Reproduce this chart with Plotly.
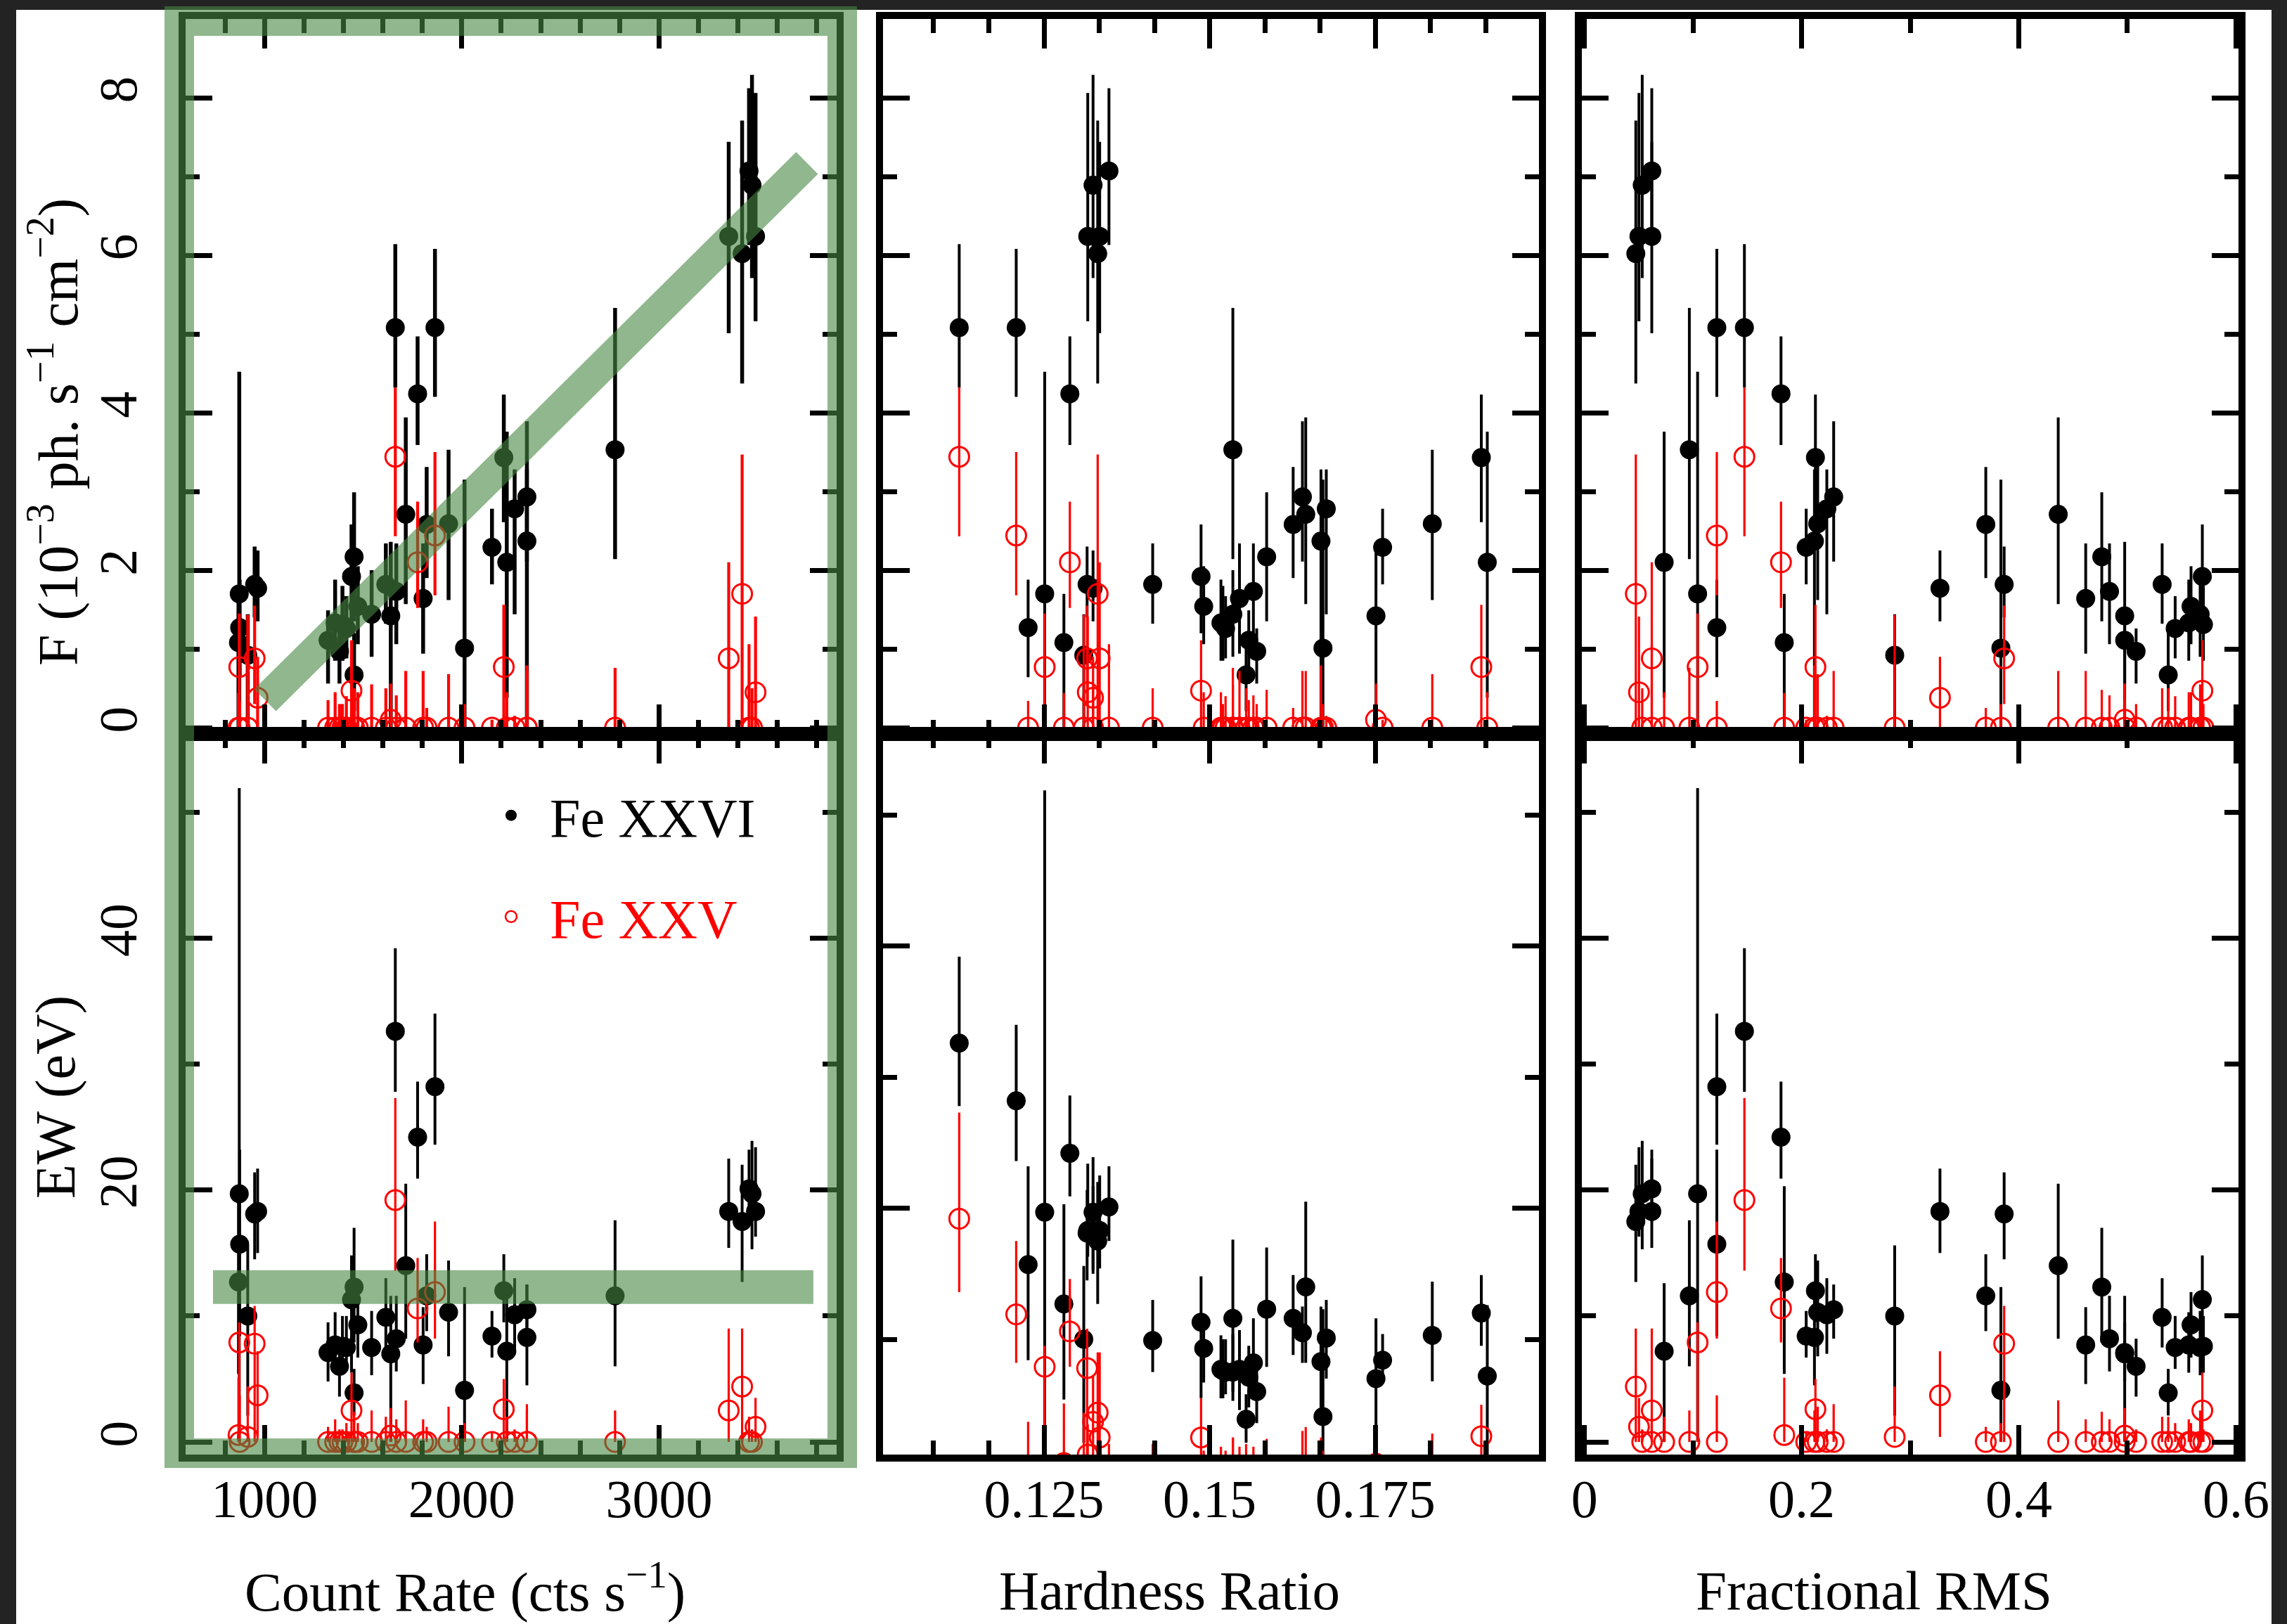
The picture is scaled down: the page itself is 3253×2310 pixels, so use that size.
import plotly.graph_objects as go

W, H = 3253, 2310
FONT = "Liberation Serif"

# ---------------- data (one entry per observation) ----------------
count_rate = [1663, 1864, 874, 872, 1776, 868, 915, 950, 965, 3471, 3489, 3353, 3421, 3456,
              1615, 1441, 1473, 2777, 1358, 1415, 1543, 1804, 1668, 1322, 1454, 1380, 1454,
              1822, 2330, 1716, 2330, 2268, 2014, 1640, 2153, 1933, 2213, 2228, 1395]
hardness_ratio = [0.1122, 0.1208, 0.1226, 0.1251, 0.1289, 0.1280, 0.1310, 0.1315, 0.1324, 0.1324,
                  0.1316, 0.1334, 0.1331, 0.1348, 0.1414, 0.1487, 0.1491, 0.1535, 0.1517, 0.1524,
                  0.1535, 0.1545, 0.1566, 0.1559, 0.1555, 0.1571, 0.1586, 0.1626, 0.1640, 0.1645,
                  0.1668, 0.1676, 0.1671, 0.1751, 0.1761, 0.1836, 0.1910, 0.1919, 0.1520]
fractional_rms = [0.1473, 0.1219, 0.1219, 0.1042, 0.181, 0.184, 0.2857, 0.3865, 0.3274, 0.0532,
                  0.0502, 0.062, 0.0473, 0.062, 0.532, 0.569, 0.5586, 0.0966, 0.5565, 0.544,
                  0.567, 0.4616, 0.4835, 0.4975, 0.5376, 0.508, 0.4764, 0.3696, 0.2295, 0.4363,
                  0.2118, 0.2232, 0.3835, 0.4975, 0.2042, 0.2148, 0.2127, 0.0734, 0.570]

flux_fe26 = [5.08, 5.08, 1.27, 1.70, 4.24, 1.08, 0.92, 1.82, 1.77, 6.89, 6.24, 6.24, 6.02, 7.07,
             1.82, 1.92, 1.54, 3.53, 1.33, 1.26, 1.44, 1.64, 1.73, 1.11, 0.67, 0.97, 2.17, 2.58,
             2.93, 2.71, 2.37, 2.78, 1.01, 1.42, 2.29, 2.59, 3.43, 2.10, 1.31]
flux_fe26_lo = [4.32, 4.20, 0.64, 0.0, 3.59, 0.0, 0.0, 1.40, 1.35, 5.71, 5.16, 5.01, 4.37, 6.13,
                1.32, 1.20, 1.06, 2.14, 0.85, 0.88, 0.90, 0.94, 1.06, 0.56, 0.21, 0.56, 1.35, 1.90,
                2.11, 1.57, 0.0, 1.44, 0.0, 0.0, 1.82, 1.62, 2.61, 0.38, 0.85]
flux_fe26_hi = [6.14, 6.08, 1.88, 4.52, 4.97, 1.70, 1.44, 2.30, 2.25, 8.29, 8.06, 7.44, 7.71, 8.12,
                2.34, 2.58, 2.05, 5.33, 1.88, 1.67, 2.00, 2.34, 2.34, 1.49, 1.20, 1.26, 2.99, 3.31,
                3.89, 3.94, 3.28, 3.28, 3.15, 2.36, 2.78, 3.53, 4.23, 3.76, 1.80]

flux_fe25 = [3.44, 2.44, 0.0, 0.77, 2.10, 0.0, 0.0, 0.88, 0.38, 0.0, 0.45, 0.88, 1.70, 0.0,
             0.0, 0.47, 0.0, 0.0, 0.0, 0.0, 0.0, 0.0, 0.0, 0.0, 0.0, 0.0, 0.0, 0.0,
             0.0, 0.0, 0.0, 0.0, 0.0, 0.10, 0.0, 0.0, 0.77, 0.0, 0.0]
flux_fe25_lo = [2.43, 1.68, 0.0, 0.0, 1.52, 0.0, 0.0, 0.30, 0.0, 0.0, 0.0, 0.0, 0.0, 0.0,
                0.0, 0.0, 0.0, 0.0, 0.0, 0.0, 0.0, 0.0, 0.0, 0.0, 0.0, 0.0, 0.0, 0.0,
                0.0, 0.0, 0.0, 0.0, 0.0, 0.0, 0.0, 0.0, 0.0, 0.0, 0.0]
flux_fe25_hi = [4.32, 3.50, 0.34, 1.45, 2.87, 0.44, 1.43, 1.55, 0.90, 0.50, 1.41, 2.10, 3.47, 1.06,
                0.50, 1.11, 0.45, 0.76, 0.45, 0.40, 0.55, 0.72, 0.41, 0.35, 0.50, 0.30, 0.48, 0.25,
                0.72, 0.72, 0.79, 0.15, 0.30, 0.56, 0.10, 0.68, 1.56, 0.45, 0.30]

ew_fe26 = [32.6, 28.2, 15.7, 19.7, 24.2, 12.7, 10.0, 18.1, 18.3, 19.7, 18.3, 18.3, 17.5, 20.1,
           9.9, 11.3, 9.3, 11.6, 7.7, 7.5, 7.5, 7.7, 8.2, 7.1, 3.9, 6.0, 12.3, 11.6,
           10.5, 14.0, 8.3, 10.1, 4.1, 7.0, 8.4, 10.3, 12.0, 7.2, 7.6]
ew_fe26_lo = [27.8, 23.6, 8.4, 0.0, 20.9, 5.4, 2.1, 14.5, 15.0, 15.3, 16.3, 15.4, 12.7, 17.5,
              7.5, 5.5, 6.7, 6.0, 5.5, 5.8, 5.3, 4.6, 5.6, 4.8, 2.1, 3.6, 7.9, 8.8,
              8.2, 8.2, 4.5, 7.0, 0.0, 0.0, 6.7, 6.8, 9.5, 0.0, 5.5]
ew_fe26_hi = [39.2, 34.0, 23.2, 51.9, 28.6, 20.3, 15.6, 21.4, 21.7, 23.9, 23.4, 22.5, 22.0, 23.2,
              13.0, 14.8, 11.9, 17.6, 10.3, 10.0, 10.4, 10.7, 11.6, 9.5, 5.8, 8.2, 17.0, 14.9,
              12.5, 20.5, 12.5, 13.0, 12.3, 11.6, 10.4, 14.4, 14.9, 12.6, 10.0]

ew_fe25 = [19.2, 11.9, 0.0, 7.9, 10.6, 0.55, 0.4, 7.8, 3.7, 0.0, 1.2, 2.5, 4.4, 0.0,
           0.0, 2.5, 0.0, 0.0, 0.0, 0.0, 0.0, 0.0, 0.0, 0.0, 0.0, 0.0, 0.0, 0.0,
           0.0, 0.0, 0.0, 0.0, 0.0, 0.5, 0.0, 0.0, 2.6, 0.0, 0.0]
ew_fe25_lo = [13.6, 8.2, 0.0, 0.0, 7.9, 0.0, 0.0, 0.0, 0.4, 0.0, 0.0, 0.0, 0.0, 0.0,
              0.0, 0.0, 0.0, 0.0, 0.0, 0.0, 0.0, 0.0, 0.0, 0.0, 0.0, 0.0, 0.0, 0.0,
              0.0, 0.0, 0.0, 0.0, 0.0, 0.0, 0.0, 0.0, 0.0, 0.0, 0.0]
ew_fe25_hi = [27.3, 17.5, 3.7, 9.5, 14.6, 5.1, 4.4, 10.8, 7.2, 1.0, 3.5, 9.0, 9.0, 2.0,
              2.0, 5.5, 1.5, 2.5, 1.8, 1.5, 2.5, 1.8, 1.8, 1.2, 2.0, 1.0, 2.4, 1.2,
              3.0, 3.3, 2.5, 1.0, 1.5, 2.7, 0.8, 2.8, 5.0, 2.0, 1.0]

series_names = ["Fe XXVI", "Fe XXV"]
x_titles = ["Count Rate (cts s<sup>\u22121</sup>)", "Hardness Ratio", "Fractional RMS"]
y_titles = ["F (10<sup>\u22123</sup> ph. s<sup>\u22121</sup> cm<sup>\u22122</sup>)", "EW (eV)"]

# ---------------- layout geometry ----------------
col_px = [(264, 1190), (1256, 2189), (2250, 3184)]
row_px = [(27, 1044), (1044, 2069)]
x_ranges = [[600, 3900], [0.1007, 0.1997], [-0.0024, 0.6023]]
y_ranges = [[[-0.08, 9.0], [-0.08, 9.0], [-0.08, 9.0]],
            [[-1.0, 56.2], [1.2, 56.2], [-1.0, 56.2]]]
x_major = [dict(tick0=0, dtick=1000, tickformat="d"),
           dict(tick0=0.125, dtick=0.025, tickformat=".3~f"),
           dict(tick0=0, dtick=0.2, tickformat="~g")]
x_minor = [dict(tick0=0, dtick=200), dict(tick0=0.125, dtick=0.025 / 3), dict(tick0=0, dtick=0.1)]
y_major = [dict(tick0=0, dtick=2), dict(tick0=0, dtick=20)]
y_minor = [dict(tick0=0, dtick=1), dict(tick0=0, dtick=10)]

x_title_px = [(661, 2258), (1663, 2262), (2665, 2262)]
y_title_px = [(77, 615), (79, 1560)]

green = "rgba(70,135,65,0.6)"
green_frame_px = (255, 30, 1198, 2067)
green_trend = dict(x0=1003, y0=0.35, x1=3750, y1=7.17)
green_level = dict(x0=739, x1=3782, y=12.3)


def err(vals, lo, hi):
    plus = [max(h - v, 0) for v, h in zip(vals, hi)]
    minus = [max(v - l, 0) for v, l in zip(vals, lo)]
    return plus, minus


x_data = [count_rate, hardness_ratio, fractional_rms]
y_black = [(flux_fe26, flux_fe26_lo, flux_fe26_hi), (ew_fe26, ew_fe26_lo, ew_fe26_hi)]
y_red = [(flux_fe25, flux_fe25_lo, flux_fe25_hi), (ew_fe25, ew_fe25_lo, ew_fe25_hi)]

fig = go.Figure()
layout = {}

for r in range(2):
    for c in range(3):
        i = r * 3 + c + 1
        xa = "x" if i == 1 else f"x{i}"
        ya = "y" if i == 1 else f"y{i}"
        thick_b = 5.5 if (r == 0 and c == 0) else 4
        thick_r = 4.2 if (r == 0 and c == 0) else 3.2
        yb, lob, hib = y_black[r]
        p, m = err(yb, lob, hib)
        fig.add_trace(go.Scatter(
            x=x_data[c], y=yb, mode="markers", xaxis=xa, yaxis=ya, showlegend=False,
            marker=dict(color="black", size=27, line=dict(width=0)),
            error_y=dict(type="data", symmetric=False, array=p, arrayminus=m,
                         color="black", thickness=thick_b, width=0)))
        yr, lor, hir = y_red[r]
        p, m = err(yr, lor, hir)
        fig.add_trace(go.Scatter(
            x=x_data[c], y=yr, mode="markers", xaxis=xa, yaxis=ya, showlegend=False,
            marker=dict(symbol="circle-open", color="red", size=28, line=dict(width=3, color="red")),
            error_y=dict(type="data", symmetric=False, array=p, arrayminus=m,
                         color="red", thickness=thick_r, width=0)))

        common = dict(showline=True, linewidth=10, linecolor="black", mirror="ticks",
                      ticks="inside", tickwidth=7, tickcolor="black", showgrid=False,
                      zeroline=False, automargin=False,
                      tickfont=dict(family=FONT, size=76, color="black"))
        layout["xaxis" if i == 1 else f"xaxis{i}"] = dict(
            domain=[col_px[c][0] / W, col_px[c][1] / W], range=x_ranges[c], anchor=ya,
            ticklen=42, showticklabels=(r == 1), ticklabelstandoff=-12,
            minor=dict(ticks="inside", ticklen=20, tickwidth=7, tickcolor="black",
                       showgrid=False, **x_minor[c]),
            **x_major[c], **common)
        layout["yaxis" if i == 1 else f"yaxis{i}"] = dict(
            domain=[1 - row_px[r][1] / H, 1 - row_px[r][0] / H], range=y_ranges[r][c], anchor=xa,
            ticklen=38, showticklabels=(c == 0), tickangle=-90, ticklabelstandoff=30,
            minor=dict(ticks="inside", ticklen=20, tickwidth=7, tickcolor="black",
                       showgrid=False, **y_minor[r]),
            **y_major[r], **common)

# legend-only traces
fig.add_trace(go.Scatter(x=[None], y=[None], mode="markers", name=series_names[0],
                         xaxis="x4", yaxis="y4", legend="legend",
                         marker=dict(color="black", size=22)))
fig.add_trace(go.Scatter(x=[None], y=[None], mode="markers", name=series_names[1],
                         xaxis="x4", yaxis="y4", legend="legend2",
                         marker=dict(symbol="circle-open", color="red", size=22,
                                     line=dict(width=2.5, color="red"))))

annotations = []
for c in range(3):
    annotations.append(dict(text=x_titles[c], xref="paper", yref="paper",
                            x=x_title_px[c][0] / W, y=1 - x_title_px[c][1] / H,
                            xanchor="center", yanchor="middle", showarrow=False,
                            font=dict(family=FONT, size=79, color="black")))
for r in range(2):
    annotations.append(dict(text=y_titles[r], xref="paper", yref="paper",
                            x=y_title_px[r][0] / W, y=1 - y_title_px[r][1] / H,
                            xanchor="center", yanchor="middle", showarrow=False, textangle=-90,
                            font=dict(family=FONT, size=80, color="black")))

gx0, gy0, gx1, gy1 = green_frame_px
shapes = [
    dict(type="rect", xref="paper", yref="paper", x0=23 / W, x1=3231 / W, y0=0, y1=1 - 14 / H,
         fillcolor="white", line=dict(width=0), layer="below"),
    dict(type="rect", xref="paper", yref="paper", x0=gx0 / W, x1=gx1 / W,
         y0=1 - gy1 / H, y1=1 - gy0 / H, line=dict(color=green, width=42),
         fillcolor="rgba(0,0,0,0)", layer="above"),
    dict(type="line", xref="x", yref="y", line=dict(color=green, width=44), layer="above",
         **green_trend),
    dict(type="line", xref="x4", yref="y4", x0=green_level["x0"], x1=green_level["x1"],
         y0=green_level["y"], y1=green_level["y"], line=dict(color=green, width=48), layer="above"),
]

fig.update_layout(
    width=W, height=H, autosize=False,
    margin=dict(l=0, r=0, t=0, b=0, pad=0, autoexpand=False),
    paper_bgcolor="#232323", plot_bgcolor="white",
    annotations=annotations, shapes=shapes,
    legend=dict(x=672 / W, y=1 - 1160 / H, xanchor="left", yanchor="middle", itemwidth=100,
                bgcolor="rgba(0,0,0,0)", borderwidth=0, itemsizing="trace",
                font=dict(family=FONT, size=78, color="black")),
    legend2=dict(x=672 / W, y=1 - 1304 / H, xanchor="left", yanchor="middle", itemwidth=100,
                 bgcolor="rgba(0,0,0,0)", borderwidth=0, itemsizing="trace",
                 font=dict(family=FONT, size=78, color="red")),
    **layout,
)

fig.write_html("out.html")
